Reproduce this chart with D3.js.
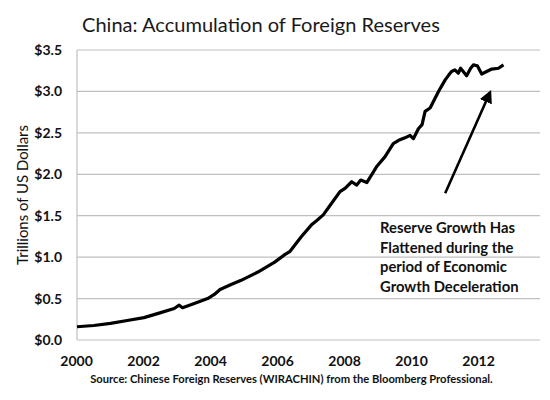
<!DOCTYPE html>
<html>
<head>
<meta charset="utf-8">
<script src="https://cdn.jsdelivr.net/npm/d3@7"></script>
<style>
  body { margin: 0; background: #fff; }
  text { font-family: Lato, "Open Sans", sans-serif; }
</style>
</head>
<body>
<div id="chart"></div>
<script>
// month positions as decimal years
const dates = [2000.0, 2000.5, 2001.0, 2001.5, 2002.0, 2002.5, 2002.9, 2003.05, 2003.15, 2003.5,
  2003.9, 2004.1, 2004.27, 2004.6, 2004.9, 2005.4, 2005.9, 2006.2, 2006.36, 2006.7,
  2007.0, 2007.15, 2007.35, 2007.6, 2007.85, 2008.0, 2008.2, 2008.35, 2008.47, 2008.65,
  2008.94, 2009.19, 2009.44, 2009.6, 2009.79, 2009.94, 2010.04, 2010.19, 2010.3, 2010.39,
  2010.54, 2010.79, 2010.99, 2011.1, 2011.18, 2011.28, 2011.38, 2011.45, 2011.63, 2011.75,
  2011.83, 2011.95, 2012.08, 2012.23, 2012.38, 2012.58, 2012.73];
const reserves = [0.16, 0.175, 0.20, 0.235, 0.27, 0.33, 0.38, 0.42, 0.39, 0.44,
  0.50, 0.55, 0.61, 0.67, 0.72, 0.82, 0.94, 1.03, 1.07, 1.25,
  1.39, 1.44, 1.51, 1.65, 1.79, 1.83, 1.91, 1.87, 1.93, 1.90,
  2.09, 2.21, 2.37, 2.41, 2.44, 2.47, 2.43, 2.55, 2.60, 2.76,
  2.80, 3.00, 3.14, 3.20, 3.24, 3.26, 3.22, 3.28, 3.19, 3.28,
  3.32, 3.31, 3.21, 3.24, 3.27, 3.28, 3.32];
const yearTicks = [2000, 2002, 2004, 2006, 2008, 2010, 2012];
const valueTicks = [0, 0.5, 1, 1.5, 2, 2.5, 3, 3.5];
const noteLines = ["Reserve Growth Has", "Flattened during the", "period of Economic", "Growth Deceleration"];
const arrowFrom = [2010.99, 1.77];
const arrowTo = [2012.33, 2.99];

const width = 550, height = 400;
const margin = { top: 50, right: 10, bottom: 60, left: 77 };

const svg = d3.select('#chart').append('svg')
  .attr('width', width)
  .attr('height', height);

const x = d3.scaleLinear().domain([2000, 2013.82]).range([margin.left, width - margin.right]);
const y = d3.scaleLinear().domain([0, 3.5]).range([height - margin.bottom, margin.top]);

// fit a text to the width it has in the picture
function fitWidth(sel, w) {
  const cur = sel.node().getComputedTextLength();
  const fs = parseFloat(sel.style('font-size'));
  sel.style('font-size', (fs * w / cur) + 'px');
}

// gridlines
svg.append('g')
  .selectAll('line')
  .data(valueTicks)
  .enter()
  .append('line')
  .attr('x1', margin.left)
  .attr('x2', width - margin.right)
  .attr('y1', d => y(d))
  .attr('y2', d => y(d))
  .style('stroke', '#c0c0c0')
  .style('stroke-width', 1.2);

svg.append('line')
  .attr('x1', margin.left).attr('x2', margin.left)
  .attr('y1', y(0)).attr('y2', y(3.5))
  .style('stroke', '#c0c0c0')
  .style('stroke-width', 1.2);

const yAxis = svg.append('g')
  .attr('transform', `translate(${margin.left},0)`)
  .call(d3.axisLeft(y).tickValues(valueTicks).tickFormat(d => '$' + d3.format('.1f')(d)).tickSize(0).tickPadding(15));
yAxis.select('.domain').remove();
yAxis.selectAll('text')
  .style('font-family', 'Lato')
  .style('font-size', '14px')
  .style('font-weight', 'bold')
  .style('fill', '#111');

const xAxis = svg.append('g')
  .attr('transform', `translate(-1,${y(0)})`)
  .call(d3.axisBottom(x).tickValues(yearTicks).tickFormat(d3.format('d')).tickSize(0).tickPadding(16));
xAxis.select('.domain').remove();
xAxis.selectAll('text')
  .style('font-family', 'Lato')
  .style('font-size', '14px')
  .style('font-weight', 'bold')
  .style('fill', '#111');

// series
const points = dates.map((d, i) => [d, reserves[i]]);
svg.append('path')
  .datum(points)
  .attr('d', d3.line().x(d => x(d[0])).y(d => y(d[1])))
  .style('fill', 'none')
  .style('stroke', '#000')
  .style('stroke-width', 3.2)
  .style('stroke-linejoin', 'round');

// arrow
svg.append('defs').append('marker')
  .attr('id', 'head')
  .attr('viewBox', '0 0 10 10')
  .attr('refX', 8).attr('refY', 5)
  .attr('markerWidth', 5).attr('markerHeight', 5)
  .attr('orient', 'auto')
  .append('path')
  .attr('d', 'M0,0 L10,5 L0,10 Z')
  .style('fill', '#000');

svg.append('line')
  .attr('x1', x(arrowFrom[0])).attr('y1', y(arrowFrom[1]))
  .attr('x2', x(arrowTo[0])).attr('y2', y(arrowTo[1]))
  .style('stroke', '#000')
  .style('stroke-width', 2.6)
  .attr('marker-end', 'url(#head)');

// note
const note = svg.append('g');
noteLines.forEach((t, i) => {
  const line = note.append('text')
    .attr('x', 380)
    .attr('y', 233 + i * 19.7)
    .style('font-size', '14px')
    .style('font-weight', 'bold')
    .style('fill', '#111')
    .text(t);
  if (i === 0) fitWidth(line, 135);
});
const noteSize = note.select('text').style('font-size');
note.selectAll('text').style('font-size', noteSize);

// title
const title = svg.append('text')
  .attr('x', 82)
  .attr('y', 32)
  .style('font-size', '22px')
  .style('fill', '#1a1a1a')
  .text('China: Accumulation of Foreign Reserves');
fitWidth(title, 358);

// axis title
const yTitle = svg.append('text')
  .attr('transform', 'translate(28,195) rotate(-90)')
  .attr('text-anchor', 'middle')
  .style('font-size', '14px')
  .style('fill', '#111')
  .text('Trillions of US Dollars');
fitWidth(yTitle, 140);

// source
const source = svg.append('text')
  .attr('x', 291.5)
  .attr('y', 383)
  .attr('text-anchor', 'middle')
  .style('font-size', '10px')
  .style('font-weight', 'bold')
  .style('fill', '#111')
  .text('Source:  Chinese Foreign Reserves (WIRACHIN) from the Bloomberg Professional.');
fitWidth(source, 403);
</script>
</body>
</html>
